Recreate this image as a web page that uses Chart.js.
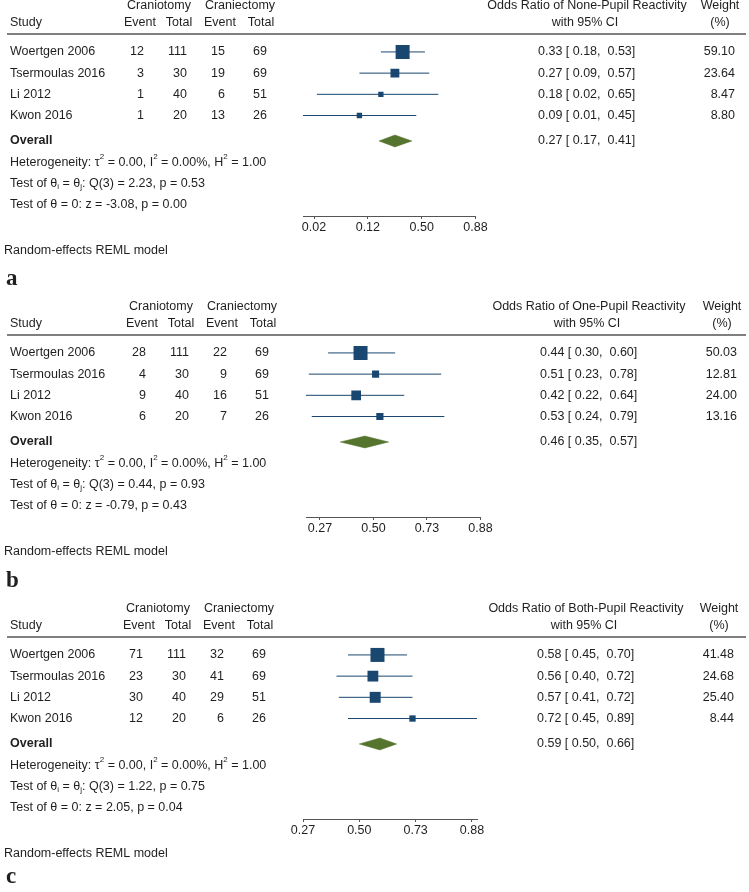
<!DOCTYPE html>
<html>
<head>
<meta charset="utf-8">
<script src="https://cdn.jsdelivr.net/npm/chart.js@4.4.1/dist/chart.umd.min.js"></script>
<style>
html, body { margin: 0; padding: 0; background: #fff; }
#wrap { position: relative; width: 749px; height: 892px; overflow: hidden; }
canvas { position: absolute; left: 0; }
</style>
</head>
<body>
<div id="wrap">
  <canvas id="panelA" width="749" height="300" style="top:0px"></canvas>
  <canvas id="panelB" width="749" height="300" style="top:301px"></canvas>
  <canvas id="panelC" width="749" height="289" style="top:603px"></canvas>
</div>
<script>
"use strict";

/* ===== data ===== */

const studies = ["Woertgen 2006", "Tsermoulas 2016", "Li 2012", "Kwon 2016"];

// a - none-pupil reactivity
const eventTomyA = [12, 3, 1, 1];
const totalTomyA = [111, 30, 40, 20];
const eventTectA = [15, 19, 6, 13];
const totalTectA = [69, 69, 51, 26];
const orA = [0.33, 0.27, 0.18, 0.09];
const lowA = [0.18, 0.09, 0.02, 0.01];
const highA = [0.53, 0.57, 0.65, 0.45];
const weightA = [59.10, 23.64, 8.47, 8.80];
const overallA = [0.27, 0.17, 0.41];          // estimate, low, high
const testsA = [2.23, 0.53, -3.08, 0.00];     // Q, p, z, p
const tickLogitA = [-4, -2, 0, 2];
const tickLabelsA = ["0.02", "0.12", "0.50", "0.88"];

// b - one-pupil reactivity
const eventTomyB = [28, 4, 9, 6];
const totalTomyB = [111, 30, 40, 20];
const eventTectB = [22, 9, 16, 7];
const totalTectB = [69, 69, 51, 26];
const orB = [0.44, 0.51, 0.42, 0.53];
const lowB = [0.30, 0.23, 0.22, 0.24];
const highB = [0.60, 0.78, 0.64, 0.79];
const weightB = [50.03, 12.81, 24.00, 13.16];
const overallB = [0.46, 0.35, 0.57];
const testsB = [0.44, 0.93, -0.79, 0.43];
const tickLogitB = [-1, 0, 1, 2];
const tickLabelsB = ["0.27", "0.50", "0.73", "0.88"];

// c - both-pupil reactivity
const eventTomyC = [71, 23, 30, 12];
const totalTomyC = [111, 30, 40, 20];
const eventTectC = [32, 41, 29, 6];
const totalTectC = [69, 69, 51, 26];
const orC = [0.58, 0.56, 0.57, 0.72];
const lowC = [0.45, 0.40, 0.41, 0.45];
const highC = [0.70, 0.72, 0.72, 0.89];
const weightC = [41.48, 24.68, 25.40, 8.44];
const overallC = [0.59, 0.50, 0.66];
const testsC = [1.22, 0.75, 2.05, 0.04];
const tickLogitC = [-1, 0, 1, 2];
const tickLabelsC = ["0.27", "0.50", "0.73", "0.88"];

/* ===== style ===== */

const NAVY = "#1a476f";
const GREEN = "#55752f";
const INK = "#1f1f1f";
const RULE = "#555555";
const FONT = '12.5px "Liberation Sans", Arial, sans-serif';
const BOLD = 'bold 12.5px "Liberation Sans", Arial, sans-serif';
const SMALL = '8px "Liberation Sans", Arial, sans-serif';
const LETTER = 'bold 23px "Liberation Serif", "Times New Roman", serif';

// row positions (in row units of the y scale)
const ROW_HEAD1 = -2.17;
const ROW_HEAD2 = -1.37;
const ROW_RULE = -0.85;
const ROW_OVERALL = 4.2;
const ROW_STATS = [5.2, 6.22, 7.2];
const ROW_MODEL = 9.35;

function logit(p){
    return Math.log(p / (1 - p));
}

function fmt(v){
    return v.toFixed(2);
}

function put(ctx, str, x, y, align, font){
    ctx.font = font || FONT;
    ctx.textAlign = align || "left";
    ctx.fillText(str, x, y);
}

function rich(ctx, parts, x, y){
    let cx = x;
    ctx.textAlign = "left";
    parts.forEach(function(part){
        const seg = typeof part === "string" ? { t: part } : part;
        ctx.font = (seg.sup || seg.sub) ? SMALL : FONT;
        const dy = seg.sup ? -5 : (seg.sub ? 3 : 0);
        ctx.fillText(seg.t, cx, y + dy);
        cx += ctx.measureText(seg.t).width;
    });
}

/* ===== panels ===== */

function makePanel(p){

    const maxW = Math.max.apply(null, p.w);

    const datasets = [];

    // confidence intervals
    p.or.forEach(function(v, i){
        datasets.push({
            data: [{ x: logit(p.lo[i]), y: i }, { x: logit(p.hi[i]), y: i }],
            borderColor: NAVY,
            borderWidth: 1,
            pointRadius: 0,
            tension: 0,
            fill: false
        });
    });

    // weighted boxes
    datasets.push({
        data: p.or.map(function(v, i){ return { x: logit(v), y: i }; }),
        showLine: false,
        pointStyle: "rect",
        pointRadius: function(c){
            return 14 * Math.sqrt(p.w[c.dataIndex] / maxW) / Math.SQRT2;
        },
        pointBorderWidth: 0,
        pointBackgroundColor: NAVY,
        pointBorderColor: NAVY
    });

    // overall diamond
    const est = logit(p.overall[0]), lo = logit(p.overall[1]), hi = logit(p.overall[2]);
    const h = 0.28;
    datasets.push({
        data: [
            { x: lo, y: ROW_OVERALL },
            { x: est, y: ROW_OVERALL - h },
            { x: hi, y: ROW_OVERALL },
            { x: est, y: ROW_OVERALL + h },
            { x: lo, y: ROW_OVERALL }
        ],
        borderColor: GREEN,
        borderWidth: 0.5,
        backgroundColor: GREEN,
        pointRadius: 0,
        tension: 0,
        fill: "shape"
    });

    const s = p.shift;

    const tablePlugin = {
        id: "forestTable",
        afterDraw: function(chart){

            const ctx = chart.ctx;
            const yS = chart.scales.y;
            const row = function(r){ return yS.getPixelForValue(r); };

            ctx.save();
            ctx.fillStyle = INK;
            ctx.textBaseline = "middle";

            // headers
            put(ctx, "Craniotomy", 159 + s, row(ROW_HEAD1), "center");
            put(ctx, "Craniectomy", 240 + s, row(ROW_HEAD1), "center");
            put(ctx, p.title, 587 + s, row(ROW_HEAD1), "center");
            put(ctx, "Weight", 720 + s, row(ROW_HEAD1), "center");

            put(ctx, "Study", 10, row(ROW_HEAD2), "left");
            put(ctx, "Event", 140 + s, row(ROW_HEAD2), "center");
            put(ctx, "Total", 179 + s, row(ROW_HEAD2), "center");
            put(ctx, "Event", 220 + s, row(ROW_HEAD2), "center");
            put(ctx, "Total", 261 + s, row(ROW_HEAD2), "center");
            put(ctx, "with 95% CI", 585 + s, row(ROW_HEAD2), "center");
            put(ctx, "(%)", 720 + s, row(ROW_HEAD2), "center");

            ctx.strokeStyle = RULE;
            ctx.lineWidth = 1.5;
            ctx.beginPath();
            ctx.moveTo(7, row(ROW_RULE));
            ctx.lineTo(746, row(ROW_RULE));
            ctx.stroke();

            // study rows
            studies.forEach(function(name, i){
                const y = row(i);
                put(ctx, name, 10, y, "left");
                put(ctx, String(p.ev1[i]), 144 + s, y, "right");
                put(ctx, String(p.n1[i]), 187 + s, y, "right");
                put(ctx, String(p.ev2[i]), 225 + s, y, "right");
                put(ctx, String(p.n2[i]), 267 + s, y, "right");
                put(ctx, fmt(p.or[i]) + " [ " + fmt(p.lo[i]) + ",  " + fmt(p.hi[i]) + "]", 538 + s, y, "left");
                put(ctx, fmt(p.w[i]), 735 + s, y, "right");
            });

            // overall
            put(ctx, "Overall", 10, row(ROW_OVERALL), "left", BOLD);
            put(ctx, fmt(p.overall[0]) + " [ " + fmt(p.overall[1]) + ",  " + fmt(p.overall[2]) + "]", 538 + s, row(ROW_OVERALL), "left");

            // heterogeneity and tests
            rich(ctx, ["Heterogeneity: \u03c4", { t: "2", sup: true }, " = 0.00, I", { t: "2", sup: true },
                       " = 0.00%, H", { t: "2", sup: true }, " = 1.00"], 10, row(ROW_STATS[0]));
            rich(ctx, ["Test of \u03b8", { t: "i", sub: true }, " = \u03b8", { t: "j", sub: true },
                       ": Q(3) = " + fmt(p.tests[0]) + ", p = " + fmt(p.tests[1])], 10, row(ROW_STATS[1]));
            rich(ctx, ["Test of \u03b8 = 0: z = " + fmt(p.tests[2]) + ", p = " + fmt(p.tests[3])], 10, row(ROW_STATS[2]));

            put(ctx, "Random-effects REML model", 4, row(ROW_MODEL), "left");

            ctx.textBaseline = "alphabetic";
            put(ctx, p.letter, 6, row(p.letterRow), "left", LETTER);

            ctx.restore();
        }
    };

    const canvas = document.getElementById(p.canvas);
    const H = canvas.height;

    return new Chart(canvas, {
        type: "line",
        data: { datasets: datasets },
        options: {
            responsive: false,
            animation: false,
            events: [],
            layout: {
                autoPadding: false,
                padding: { left: p.plot[0], right: 749 - p.plot[1], top: 0, bottom: H - 216 - 20 }
            },
            plugins: {
                legend: { display: false },
                tooltip: { enabled: false }
            },
            scales: {
                x: {
                    type: "linear",
                    min: p.range[0],
                    max: p.range[1],
                    afterBuildTicks: function(scale){
                        scale.ticks = p.tickAt.map(function(v){ return { value: v }; });
                    },
                    afterFit: function(scale){
                        scale.height = 20;
                    },
                    ticks: {
                        autoSkip: false,
                        maxRotation: 0,
                        padding: 1,
                        color: INK,
                        font: { family: '"Liberation Sans", Arial, sans-serif', size: 12.5 },
                        callback: function(v, i){ return p.tickLabels[i]; }
                    },
                    grid: {
                        drawOnChartArea: false,
                        drawTicks: true,
                        tickLength: 3,
                        color: RULE,
                        lineWidth: 1
                    },
                    border: { display: true, color: RULE, width: 1 }
                },
                y: {
                    type: "linear",
                    display: false,
                    reverse: true,
                    min: -2.45,
                    max: 7.74
                }
            }
        },
        plugins: [tablePlugin]
    });
}

makePanel({
    canvas: "panelA", letter: "a", title: "Odds Ratio of None-Pupil Reactivity",
    ev1: eventTomyA, n1: totalTomyA, ev2: eventTectA, n2: totalTectA,
    or: orA, lo: lowA, hi: highA, w: weightA, overall: overallA, tests: testsA,
    tickAt: tickLogitA, tickLabels: tickLabelsA,
    range: [-4.41, 2], plot: [303, 475.5], shift: 0, letterRow: 11.0
});

makePanel({
    canvas: "panelB", letter: "b", title: "Odds Ratio of One-Pupil Reactivity",
    ev1: eventTomyB, n1: totalTomyB, ev2: eventTectB, n2: totalTectB,
    or: orB, lo: lowB, hi: highB, w: weightB, overall: overallB, tests: testsB,
    tickAt: tickLogitB, tickLabels: tickLabelsB,
    range: [-1.26, 2], plot: [306, 480.5], shift: 2, letterRow: 11.05
});

makePanel({
    canvas: "panelC", letter: "c", title: "Odds Ratio of Both-Pupil Reactivity",
    ev1: eventTomyC, n1: totalTomyC, ev2: eventTectC, n2: totalTectC,
    or: orC, lo: lowC, hi: highC, w: weightC, overall: overallC, tests: testsC,
    tickAt: tickLogitC, tickLabels: tickLabelsC,
    range: [-1, 2.09], plot: [303, 477], shift: -1, letterRow: 10.75
});
</script>
</body>
</html>
